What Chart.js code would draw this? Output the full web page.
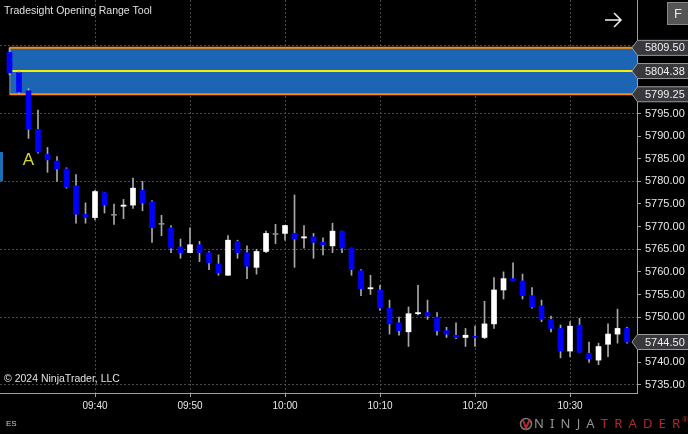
<!DOCTYPE html>
<html>
<head>
<meta charset="utf-8">
<script src="https://cdn.jsdelivr.net/npm/chart.js@4.4.1/dist/chart.umd.min.js"></script>
<style>
html, body { margin: 0; padding: 0; background: #000; overflow: hidden; }
canvas { display: block; }
</style>
</head>
<body>
<canvas id="myChart" width="688" height="434"></canvas>
<script>
// one bar per minute, x = minutes after 09:30
const minutes = [1, 2, 3, 4, 5, 6, 7, 8, 9, 10, 11, 12, 13, 14, 15, 16, 17, 18, 19, 20,
    21, 22, 23, 24, 25, 26, 27, 28, 29, 30, 31, 32, 33, 34, 35, 36, 37, 38, 39, 40,
    41, 42, 43, 44, 45, 46, 47, 48, 49, 50, 51, 52, 53, 54, 55, 56, 57, 58, 59, 60,
    61, 62, 63, 64, 65, 66];
const opens = [5808.5, 5804.0, 5800.0, 5791.5, 5786.0, 5784.5, 5782.75, 5779.0, 5772.75, 5772.0,
    5777.5, 5772.5, 5774.5, 5774.75, 5778.0, 5775.5, 5770.5, 5769.75, 5765.5, 5764.25,
    5766.0, 5764.25, 5761.75, 5759.25, 5766.75, 5764.25, 5761.0, 5764.5, 5768.25, 5768.5,
    5768.5, 5767.5, 5767.75, 5766.5, 5765.75, 5769.0, 5765.25, 5760.25, 5756.25, 5756.0,
    5752.0, 5748.75, 5746.75, 5750.75, 5751.0, 5750.0, 5747.0, 5746.0, 5745.5, 5745.75,
    5745.5, 5748.5, 5756.0, 5758.5, 5758.0, 5754.75, 5752.5, 5749.5, 5747.5, 5742.5,
    5748.25, 5742.0, 5740.5, 5744.0, 5746.25, 5747.5];
const highs = [5809.5, 5804.25, 5800.5, 5795.75, 5787.5, 5785.5, 5783.0, 5781.5, 5775.25, 5778.0,
    5777.5, 5775.0, 5776.0, 5780.75, 5780.0, 5775.75, 5772.5, 5770.25, 5767.25, 5769.75,
    5766.75, 5764.5, 5763.75, 5768.0, 5767.0, 5765.75, 5765.0, 5769.0, 5770.5, 5770.25,
    5777.0, 5770.25, 5768.5, 5767.5, 5770.75, 5769.0, 5765.25, 5760.5, 5759.25, 5757.0,
    5753.75, 5750.0, 5752.25, 5757.0, 5753.75, 5751.0, 5747.75, 5748.75, 5747.5, 5748.0,
    5753.5, 5758.75, 5760.0, 5762.0, 5759.5, 5756.5, 5753.75, 5750.25, 5748.25, 5749.0,
    5749.75, 5744.5, 5744.25, 5748.5, 5751.75, 5747.75];
const lows = [5803.5, 5799.25, 5789.5, 5786.25, 5782.0, 5780.0, 5778.5, 5770.75, 5770.75, 5771.5,
    5773.0, 5770.5, 5771.75, 5774.0, 5773.5, 5766.5, 5768.0, 5764.25, 5763.0, 5764.25,
    5762.25, 5760.5, 5759.25, 5759.25, 5763.0, 5758.5, 5759.5, 5764.25, 5766.25, 5767.0,
    5761.0, 5765.25, 5763.0, 5763.75, 5764.25, 5764.25, 5759.25, 5754.75, 5755.0, 5751.5,
    5746.25, 5746.0, 5743.5, 5750.5, 5749.5, 5746.0, 5745.5, 5745.25, 5743.5, 5743.5,
    5745.25, 5747.5, 5754.0, 5758.0, 5754.0, 5752.0, 5749.0, 5746.75, 5741.0, 5741.25,
    5742.25, 5740.0, 5739.5, 5741.25, 5744.25, 5744.25];
const closes = [5804.0, 5799.75, 5791.5, 5786.5, 5784.75, 5782.75, 5778.75, 5772.75, 5772.0, 5777.75,
    5774.75, 5772.5, 5774.75, 5778.5, 5775.25, 5769.75, 5770.5, 5765.25, 5764.25, 5766.0,
    5764.25, 5762.0, 5759.75, 5767.0, 5764.25, 5761.25, 5764.5, 5768.5, 5768.25, 5770.25,
    5767.25, 5767.75, 5766.5, 5766.0, 5769.0, 5765.25, 5760.5, 5756.25, 5756.5, 5752.0,
    5748.5, 5747.0, 5750.75, 5751.0, 5750.25, 5747.0, 5746.25, 5745.5, 5746.0, 5745.5,
    5748.5, 5756.0, 5758.5, 5758.0, 5754.75, 5752.25, 5749.5, 5747.5, 5742.5, 5748.0,
    5742.25, 5740.75, 5743.5, 5746.25, 5747.5, 5744.5];

const timeTicks = [10, 20, 30, 40, 50, 60];
const priceTicks = [5735, 5740, 5745, 5750, 5755, 5760, 5765, 5770, 5775, 5780, 5785, 5790, 5795, 5800, 5805, 5810];
const gridPrices = [5735, 5750, 5765, 5780, 5795, 5810];

// opening range
const rangeHigh = 5809.50;
const rangeMid = 5804.38;
const rangeLow = 5799.25;
const lastPrice = 5744.50;
const markerLabel = 'A';
const markerBar = 3;
const markerPrice = 5784.7;
const sideMarkTop = 5786.5;
const sideMarkBottom = 5780.0;

function timeLabel(v) {
    let t = 9 * 60 + 30 + v;
    let h = Math.floor(t / 60), m = t % 60;
    return (h < 10 ? '0' : '') + h + ':' + (m < 10 ? '0' : '') + m;
}

function priceBox(ctx, left, yPix, text) {
    ctx.beginPath();
    ctx.moveTo(left - 5, yPix);
    ctx.lineTo(left + 0.5, yPix - 7.5);
    ctx.lineTo(690, yPix - 7.5);
    ctx.lineTo(690, yPix + 7.5);
    ctx.lineTo(left + 0.5, yPix + 7.5);
    ctx.closePath();
    ctx.fillStyle = '#38383d';
    ctx.fill();
    ctx.strokeStyle = '#9a9a9a';
    ctx.lineWidth = 1;
    ctx.stroke();
    ctx.fillStyle = '#f0f0f0';
    ctx.font = '11px "Liberation Sans", Arial';
    ctx.textAlign = 'left';
    ctx.textBaseline = 'middle';
    ctx.fillText(text, left + 8, yPix + 0.5);
}

const ntPlugin = {
    id: 'ntPlugin',
    beforeDraw(chart) {
        const ctx = chart.ctx;
        ctx.save();
        ctx.fillStyle = '#000';
        ctx.fillRect(0, 0, chart.width, chart.height);
        ctx.restore();
    },
    beforeDatasetsDraw(chart) {
        const {ctx, chartArea, scales: {x, y}} = chart;
        const x0 = x.getPixelForValue(minutes[0]);
        const yh = y.getPixelForValue(rangeHigh);
        const yl = y.getPixelForValue(rangeLow);
        const ym = y.getPixelForValue(rangeMid);
        ctx.save();
        ctx.fillStyle = '#1c64b4';
        ctx.fillRect(x0, yh, chartArea.right - x0, yl - yh);
        ctx.strokeStyle = '#7f8a99';
        ctx.lineWidth = 1;
        ctx.beginPath();
        ctx.moveTo(x0 + 0.5, yh);
        ctx.lineTo(x0 + 0.5, yl);
        ctx.stroke();
        ctx.lineWidth = 2;
        ctx.strokeStyle = '#ff8c00';
        ctx.beginPath();
        ctx.moveTo(x0, yh); ctx.lineTo(chartArea.right, yh);
        ctx.moveTo(x0, yl); ctx.lineTo(chartArea.right, yl);
        ctx.stroke();
        ctx.strokeStyle = '#f0f000';
        ctx.beginPath();
        ctx.moveTo(x0, ym); ctx.lineTo(chartArea.right, ym);
        ctx.stroke();
        // small blue mark on the left edge
        ctx.fillStyle = '#1e6eb4';
        const st = y.getPixelForValue(sideMarkTop), sb = y.getPixelForValue(sideMarkBottom);
        ctx.fillRect(chartArea.left, st, 3, sb - st);
        ctx.restore();
    },
    afterDraw(chart) {
        const {ctx, chartArea, scales: {x, y}} = chart;
        ctx.save();
        // title
        ctx.fillStyle = '#e0e0e0';
        ctx.font = '10.5px "Liberation Sans", Arial';
        ctx.textAlign = 'left';
        ctx.textBaseline = 'alphabetic';
        ctx.fillText('Tradesight Opening Range Tool', 4, 14);
        // copyright
        ctx.textBaseline = 'middle';
        ctx.fillText('\u00a9 2024 NinjaTrader, LLC', 4, 379);
        // ES
        ctx.font = '8px "Liberation Sans", Arial';
        ctx.fillStyle = '#c8c8c8';
        ctx.fillText('ES', 6, 424);
        // marker letter
        ctx.font = '17px "Liberation Sans", Arial';
        ctx.fillStyle = '#d2dc28';
        ctx.textAlign = 'center';
        ctx.fillText(markerLabel, x.getPixelForValue(minutes[markerBar - 1]), y.getPixelForValue(markerPrice));
        // price markers
        const left = y.left;
        priceBox(ctx, left, y.getPixelForValue(rangeHigh), rangeHigh.toFixed(2));
        priceBox(ctx, left, y.getPixelForValue(rangeMid), rangeMid.toFixed(2));
        priceBox(ctx, left, y.getPixelForValue(rangeLow), rangeLow.toFixed(2));
        priceBox(ctx, left, y.getPixelForValue(lastPrice), lastPrice.toFixed(2));
        // arrow top right
        ctx.strokeStyle = '#f0f0f0';
        ctx.lineWidth = 1.5;
        ctx.beginPath();
        ctx.moveTo(605, 20); ctx.lineTo(621, 20);
        ctx.moveTo(614, 13); ctx.lineTo(621, 20); ctx.lineTo(614, 27);
        ctx.stroke();
        // F box
        ctx.fillStyle = '#555';
        ctx.fillRect(667, 2, 22, 23);
        ctx.strokeStyle = '#888';
        ctx.lineWidth = 1;
        ctx.strokeRect(667.5, 2.5, 22, 22);
        ctx.fillStyle = '#e8e8e8';
        ctx.font = '13px "Liberation Sans", Arial';
        ctx.textAlign = 'center';
        ctx.fillText('F', 678, 14);
        // NinjaTrader logo
        ctx.strokeStyle = '#7a7a7a';
        ctx.lineWidth = 1.5;
        ctx.beginPath();
        ctx.arc(526, 424, 5.5, 0, Math.PI * 2);
        ctx.stroke();
        ctx.strokeStyle = '#b3282d';
        ctx.lineWidth = 2;
        ctx.beginPath();
        ctx.moveTo(523, 420); ctx.lineTo(526, 428); ctx.lineTo(529.5, 420);
        ctx.stroke();
        ctx.font = '13px "Noto Sans", Arial';
        ctx.textAlign = 'left';
        ctx.textBaseline = 'middle';
        const word = 'NINJATRADER';
        let total = 0;
        for (let k = 0; k < word.length; k++) total += ctx.measureText(word[k]).width;
        const gap = (146 - total) / (word.length - 1);
        let cx = 534;
        for (let k = 0; k < word.length; k++) {
            ctx.fillStyle = k < 5 ? '#959595' : '#b3282d';
            ctx.fillText(word[k], cx, 424);
            cx += ctx.measureText(word[k]).width + gap;
        }
        ctx.fillStyle = '#b3282d';
        ctx.font = '7px "Noto Sans", Arial';
        ctx.fillText('\u00ae', 682, 420);
        ctx.restore();
    }
};

const wickData = minutes.map((m, i) => ({x: m, y: [lows[i], highs[i]]}));
const bodyData = minutes.map((m, i) => ({x: m, y: [opens[i], closes[i]]}));
const bodyColors = minutes.map((m, i) => closes[i] > opens[i] ? '#ffffff' : (closes[i] < opens[i] ? '#0000ff' : '#8c8c8c'));

const ctx = document.getElementById('myChart').getContext('2d');
const chart = new Chart(ctx, {
    type: 'bar',
    data: {
        datasets: [{
            label: 'wicks',
            data: wickData,
            backgroundColor: '#a8a8a8',
            barThickness: 1,
            grouped: false,
            order: 2
        }, {
            label: 'bodies',
            data: bodyData,
            backgroundColor: bodyColors,
            barThickness: 5,
            minBarLength: 1,
            grouped: false,
            order: 1
        }]
    },
    options: {
        responsive: false,
        animation: false,
        devicePixelRatio: 1,
        layout: { padding: 0 },
        plugins: { legend: { display: false }, tooltip: { enabled: false } },
        scales: {
            x: {
                type: 'linear',
                min: 0,
                max: 67.05,
                offset: false,
                afterBuildTicks: s => { s.ticks = timeTicks.map(v => ({value: v})); },
                afterFit: s => { s.height = 41; s.paddingLeft = 0; s.paddingRight = 0; },
                ticks: {
                    color: '#e8e8e8',
                    font: { family: '"Liberation Sans", Arial', size: 10 },
                    padding: 3,
                    maxRotation: 0,
                    autoSkip: false,
                    callback: v => timeLabel(v)
                },
                grid: { color: '#4a4a4a', tickColor: '#a0a0a0', tickLength: 4, offset: false },
                border: { color: '#a0a0a0', dash: [2, 2] }
            },
            y: {
                position: 'right',
                min: 5733.23,
                max: 5820.08,
                afterBuildTicks: s => { s.ticks = priceTicks.map(v => ({value: v})); },
                afterFit: s => { s.width = 51; s.paddingTop = 0; s.paddingBottom = 0; },
                ticks: {
                    color: '#e8e8e8',
                    font: { family: '"Liberation Sans", Arial', size: 11 },
                    padding: 4,
                    autoSkip: false,
                    callback: v => v <= 5795 ? v.toFixed(2) : ''
                },
                grid: {
                    color: c => (c.tick && gridPrices.includes(c.tick.value)) ? '#4a4a4a' : 'rgba(0,0,0,0)',
                    tickColor: '#a0a0a0',
                    tickLength: 4
                },
                border: { color: '#a0a0a0', dash: [2, 2] }
            }
        }
    },
    plugins: [ntPlugin]
});
</script>
</body>
</html>
